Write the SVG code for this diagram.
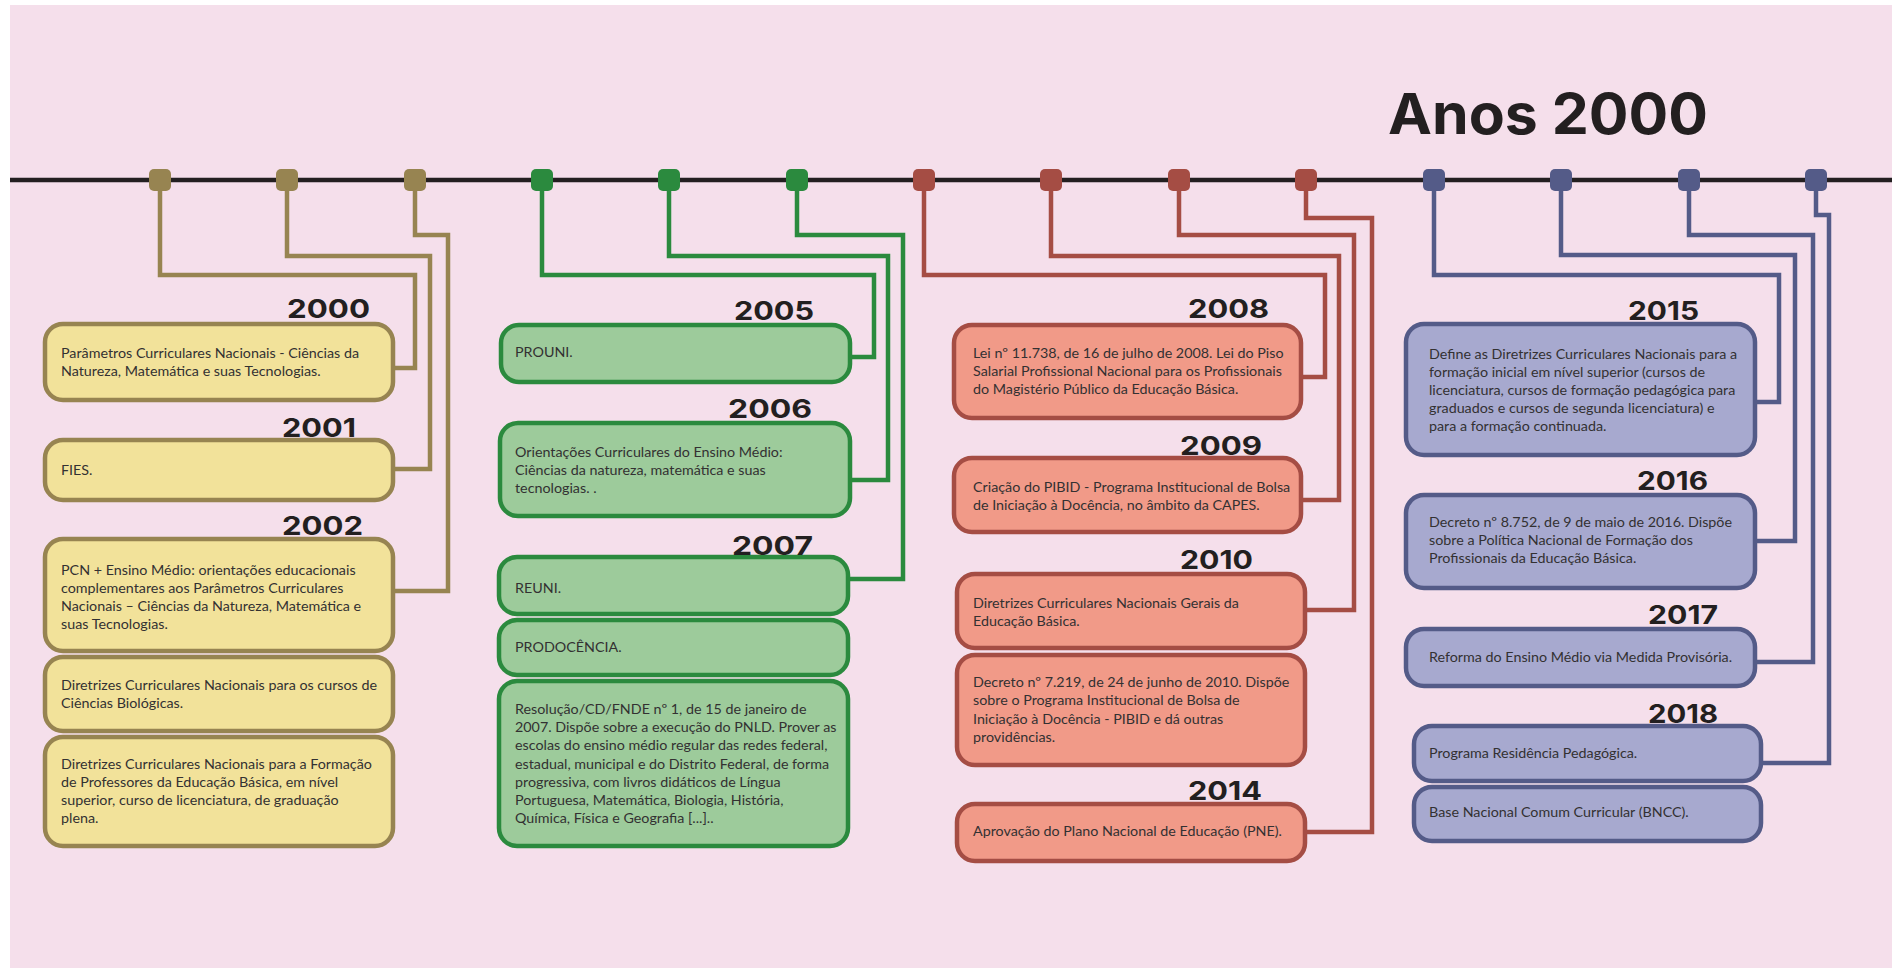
<svg xmlns="http://www.w3.org/2000/svg" width="1892" height="968" viewBox="0 0 1892 968">
<style>
.bg{fill:#f5dfeb}
.tl{stroke:#231f20;stroke-width:4.5;fill:none}
.con{fill:none;stroke-width:4.5;stroke-linejoin:miter}
.box{stroke-width:4.5}
.gold .box,.gold.mk{fill:#f2e29a;stroke:#978451}
.green .box{fill:#9dcb9b;stroke:#2b8a3e}
.red .box{fill:#f19a88;stroke:#a54d44}
.blue .box{fill:#a7a9cf;stroke:#545b88}
.cg{stroke:#978451}.cgr{stroke:#2b8a3e}.cr{stroke:#a54d44}.cb{stroke:#545b88}
.mg{fill:#978451}.mgr{fill:#2b8a3e}.mr{fill:#a54d44}.mb{fill:#545b88}
.t{font-family:Lato,"Liberation Sans",sans-serif;font-size:14.3px;fill:#333132}
.yr{font-family:Inter,"DejaVu Sans",sans-serif;font-weight:700;font-size:26px;fill:#231f20}
.title{font-family:Inter,"DejaVu Sans",sans-serif;font-weight:700;font-size:56px;fill:#231f20}
</style>
<rect x="0" y="0" width="1892" height="968" fill="#ffffff"/>
<rect class="bg" x="10" y="5" width="1882" height="963"/>
<text class="title" x="1388" y="134" textLength="320" lengthAdjust="spacingAndGlyphs">Anos 2000</text>
<line class="tl" x1="10" y1="180" x2="1892" y2="180"/>

<g id="connectors">
<path class="con cg" d="M160 191 V275 H415 V368 H393"/>
<path class="con cg" d="M287 191 V256 H430 V469 H393"/>
<path class="con cg" d="M415 191 V235 H448 V591 H393"/>
<path class="con cgr" d="M542 191 V275 H874 V357 H850"/>
<path class="con cgr" d="M669 191 V256 H888 V480 H850"/>
<path class="con cgr" d="M797 191 V235 H903 V579 H848"/>
<path class="con cr" d="M924 191 V275 H1325 V377 H1301"/>
<path class="con cr" d="M1051 191 V256 H1339 V500 H1301"/>
<path class="con cr" d="M1179 191 V235 H1354 V610 H1305"/>
<path class="con cr" d="M1306 191 V218 H1372 V832 H1305"/>
<path class="con cb" d="M1434 191 V275 H1779 V402 H1755"/>
<path class="con cb" d="M1561 191 V255 H1795 V541 H1755"/>
<path class="con cb" d="M1689 191 V235 H1813 V662 H1755"/>
<path class="con cb" d="M1816 191 V215 H1829 V763 H1761"/>
</g>

<g id="markers">
<rect class="mg" x="149" y="169" width="22" height="22" rx="5"/>
<rect class="mg" x="276" y="169" width="22" height="22" rx="5"/>
<rect class="mg" x="404" y="169" width="22" height="22" rx="5"/>
<rect class="mgr" x="531" y="169" width="22" height="22" rx="5"/>
<rect class="mgr" x="658" y="169" width="22" height="22" rx="5"/>
<rect class="mgr" x="786" y="169" width="22" height="22" rx="5"/>
<rect class="mr" x="913" y="169" width="22" height="22" rx="5"/>
<rect class="mr" x="1040" y="169" width="22" height="22" rx="5"/>
<rect class="mr" x="1168" y="169" width="22" height="22" rx="5"/>
<rect class="mr" x="1295" y="169" width="22" height="22" rx="5"/>
<rect class="mb" x="1423" y="169" width="22" height="22" rx="5"/>
<rect class="mb" x="1550" y="169" width="22" height="22" rx="5"/>
<rect class="mb" x="1678" y="169" width="22" height="22" rx="5"/>
<rect class="mb" x="1805" y="169" width="22" height="22" rx="5"/>
</g>

<!-- GOLD -->
<g id="n2000" class="gold">
<rect class="box" x="45" y="324" width="348" height="76" rx="18"/>
<text class="t" x="61" y="358">Parâmetros Curriculares Nacionais - Ciências da</text>
<text class="t" x="61" y="376">Natureza, Matemática e suas Tecnologias.</text>
<text class="yr" x="287" y="318" textLength="83" lengthAdjust="spacingAndGlyphs">2000</text>
</g>
<g id="n2001" class="gold">
<rect class="box" x="45" y="440" width="348" height="60" rx="18"/>
<text class="t" x="61" y="475">FIES.</text>
<text class="yr" x="282" y="437" textLength="74" lengthAdjust="spacingAndGlyphs">2001</text>
</g>
<g id="n2002a" class="gold">
<rect class="box" x="45" y="539" width="348" height="112" rx="18"/>
<text class="t" x="61" y="575">PCN + Ensino Médio: orientações educacionais</text>
<text class="t" x="61" y="593">complementares aos Parâmetros Curriculares</text>
<text class="t" x="61" y="611">Nacionais – Ciências da Natureza, Matemática e</text>
<text class="t" x="61" y="629">suas Tecnologias.</text>
<text class="yr" x="282" y="535" textLength="81" lengthAdjust="spacingAndGlyphs">2002</text>
</g>
<g id="n2002b" class="gold">
<rect class="box" x="45" y="657" width="348" height="74" rx="18"/>
<text class="t" x="61" y="690">Diretrizes Curriculares Nacionais para os cursos de</text>
<text class="t" x="61" y="708">Ciências Biológicas.</text>
</g>
<g id="n2002c" class="gold">
<rect class="box" x="45" y="737" width="348" height="109" rx="18"/>
<text class="t" x="61" y="769">Diretrizes Curriculares Nacionais para a Formação</text>
<text class="t" x="61" y="787">de Professores da Educação Básica, em nível</text>
<text class="t" x="61" y="805">superior, curso de licenciatura, de graduação</text>
<text class="t" x="61" y="823">plena.</text>
</g>

<!-- GREEN -->
<g id="n2005" class="green">
<rect class="box" x="501" y="325" width="349" height="57" rx="18"/>
<text class="t" x="515" y="357">PROUNI.</text>
<text class="yr" x="734" y="320" textLength="80" lengthAdjust="spacingAndGlyphs">2005</text>
</g>
<g id="n2006" class="green">
<rect class="box" x="500" y="423" width="350" height="93" rx="18"/>
<text class="t" x="515" y="457">Orientações Curriculares do Ensino Médio:</text>
<text class="t" x="515" y="475">Ciências da natureza, matemática e suas</text>
<text class="t" x="515" y="493">tecnologias. .</text>
<text class="yr" x="728" y="418" textLength="84" lengthAdjust="spacingAndGlyphs">2006</text>
</g>
<g id="n2007a" class="green">
<rect class="box" x="499" y="557" width="349" height="57" rx="18"/>
<text class="t" x="515" y="593">REUNI.</text>
<text class="yr" x="732" y="555" textLength="81" lengthAdjust="spacingAndGlyphs">2007</text>
</g>
<g id="n2007b" class="green">
<rect class="box" x="499" y="620" width="349" height="55" rx="18"/>
<text class="t" x="515" y="652">PRODOCÊNCIA.</text>
</g>
<g id="n2007c" class="green">
<rect class="box" x="499" y="681" width="349" height="165" rx="18"/>
<text class="t" x="515" y="714">Resolução/CD/FNDE nº 1, de 15 de janeiro de</text>
<text class="t" x="515" y="732">2007. Dispõe sobre a execução do PNLD. Prover as</text>
<text class="t" x="515" y="750">escolas do ensino médio regular das redes federal,</text>
<text class="t" x="515" y="769">estadual, municipal e do Distrito Federal, de forma</text>
<text class="t" x="515" y="787">progressiva, com livros didáticos de Língua</text>
<text class="t" x="515" y="805">Portuguesa, Matemática, Biologia, História,</text>
<text class="t" x="515" y="823">Química, Física e Geografia [...]..</text>
</g>

<!-- RED -->
<g id="n2008" class="red">
<rect class="box" x="954" y="325" width="347" height="93" rx="18"/>
<text class="t" x="973" y="358">Lei nº 11.738, de 16 de julho de 2008. Lei do Piso</text>
<text class="t" x="973" y="376">Salarial Profissional Nacional para os Profissionais</text>
<text class="t" x="973" y="394">do Magistério Público da Educação Básica.</text>
<text class="yr" x="1188" y="318" textLength="81" lengthAdjust="spacingAndGlyphs">2008</text>
</g>
<g id="n2009" class="red">
<rect class="box" x="954" y="458" width="347" height="74" rx="18"/>
<text class="t" x="973" y="492">Criação do PIBID - Programa Institucional de Bolsa</text>
<text class="t" x="973" y="510">de Iniciação à Docência, no âmbito da CAPES.</text>
<text class="yr" x="1180" y="455" textLength="82" lengthAdjust="spacingAndGlyphs">2009</text>
</g>
<g id="n2010a" class="red">
<rect class="box" x="957" y="574" width="348" height="74" rx="18"/>
<text class="t" x="973" y="608">Diretrizes Curriculares Nacionais Gerais da</text>
<text class="t" x="973" y="626">Educação Básica.</text>
<text class="yr" x="1180" y="569" textLength="73" lengthAdjust="spacingAndGlyphs">2010</text>
</g>
<g id="n2010b" class="red">
<rect class="box" x="957" y="655" width="348" height="110" rx="18"/>
<text class="t" x="973" y="687">Decreto nº 7.219, de 24 de junho de 2010. Dispõe</text>
<text class="t" x="973" y="705">sobre o Programa Institucional de Bolsa de</text>
<text class="t" x="973" y="724">Iniciação à Docência - PIBID e dá outras</text>
<text class="t" x="973" y="742">providências.</text>
</g>
<g id="n2014" class="red">
<rect class="box" x="957" y="804" width="348" height="57" rx="18"/>
<text class="t" x="973" y="836">Aprovação do Plano Nacional de Educação (PNE).</text>
<text class="yr" x="1188" y="800" textLength="74" lengthAdjust="spacingAndGlyphs">2014</text>
</g>

<!-- BLUE -->
<g id="n2015" class="blue">
<rect class="box" x="1406" y="324" width="349" height="131" rx="18"/>
<text class="t" x="1429" y="359">Define as Diretrizes Curriculares Nacionais para a</text>
<text class="t" x="1429" y="377">formação inicial em nível superior (cursos de</text>
<text class="t" x="1429" y="395">licenciatura, cursos de formação pedagógica para</text>
<text class="t" x="1429" y="413">graduados e cursos de segunda licenciatura) e</text>
<text class="t" x="1429" y="431">para a formação continuada.</text>
<text class="yr" x="1628" y="320" textLength="71" lengthAdjust="spacingAndGlyphs">2015</text>
</g>
<g id="n2016" class="blue">
<rect class="box" x="1406" y="495" width="349" height="93" rx="18"/>
<text class="t" x="1429" y="527">Decreto nº 8.752, de 9 de maio de 2016. Dispõe</text>
<text class="t" x="1429" y="545">sobre a Política Nacional de Formação dos</text>
<text class="t" x="1429" y="563">Profissionais da Educação Básica.</text>
<text class="yr" x="1637" y="490" textLength="71" lengthAdjust="spacingAndGlyphs">2016</text>
</g>
<g id="n2017" class="blue">
<rect class="box" x="1406" y="629" width="349" height="57" rx="18"/>
<text class="t" x="1429" y="662">Reforma do Ensino Médio via Medida Provisória.</text>
<text class="yr" x="1648" y="624" textLength="70" lengthAdjust="spacingAndGlyphs">2017</text>
</g>
<g id="n2018a" class="blue">
<rect class="box" x="1414" y="726" width="347" height="55" rx="18"/>
<text class="t" x="1429" y="758">Programa Residência Pedagógica.</text>
<text class="yr" x="1648" y="723" textLength="70" lengthAdjust="spacingAndGlyphs">2018</text>
</g>
<g id="n2018b" class="blue">
<rect class="box" x="1414" y="787" width="347" height="54" rx="18"/>
<text class="t" x="1429" y="817">Base Nacional Comum Curricular (BNCC).</text>
</g>
</svg>
